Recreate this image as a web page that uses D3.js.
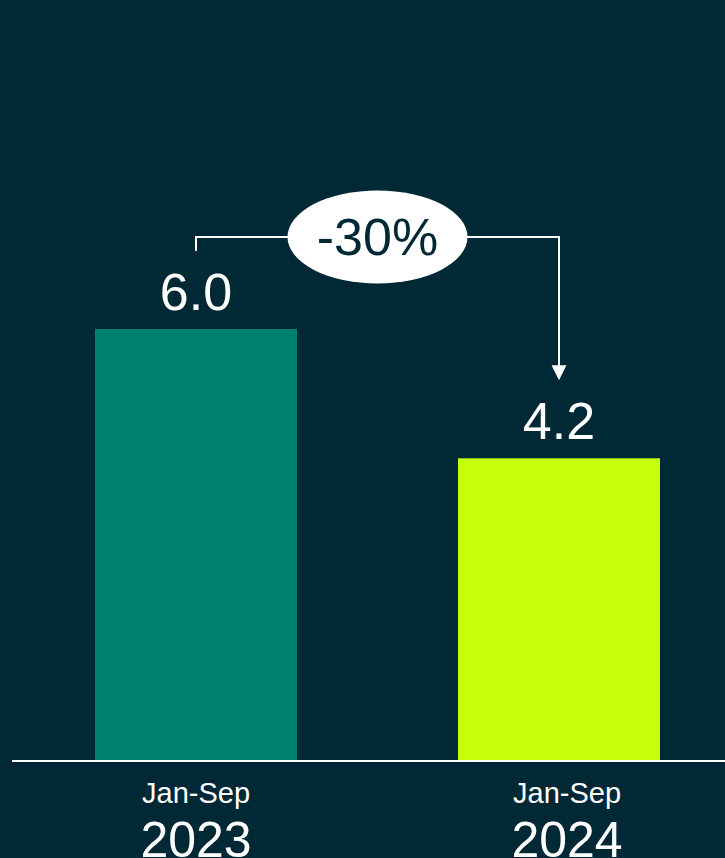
<!DOCTYPE html>
<html>
<head>
<meta charset="utf-8">
<script src="https://d3js.org/d3.v7.min.js"></script>
<style>
body { margin: 0; padding: 0; background: #012835; overflow: hidden; }
svg { display: block; }
text { font-family: "Liberation Sans", Arial, sans-serif; }
</style>
</head>
<body>
<svg id="chart" width="725" height="858"></svg>
<script>
// data
var periods = ['Jan-Sep', 'Jan-Sep'];
var years = ['2023', '2024'];
var values = [6.0, 4.2];
var barColors = ['#008070', '#c6ff0a'];
var changeLabel = '-30%';

var W = 725, H = 858;
var bg = '#012835';

var svg = d3.select('#chart');
svg.append('rect').attr('width', W).attr('height', H).attr('fill', bg);

var x = d3.scaleBand()
  .domain(years)
  .range([95, 660])
  .paddingInner(0.4435)
  .paddingOuter(0);

var y = d3.scaleLinear().domain([0, 6.0]).range([760, 329]);

var data = years.map(function(d, i) {
  return { year: d, period: periods[i], value: values[i], color: barColors[i] };
});

// bars
svg.selectAll('rect.bar')
  .data(data)
  .enter()
  .append('rect')
  .attr('class', 'bar')
  .attr('x', function(d) { return x(d.year); })
  .attr('y', function(d) { return y(d.value); })
  .attr('width', x.bandwidth())
  .attr('height', function(d) { return y(0) - y(d.value); })
  .attr('fill', function(d) { return d.color; });

// value labels
svg.selectAll('text.val')
  .data(data)
  .enter()
  .append('text')
  .attr('class', 'val')
  .attr('x', function(d) { return x(d.year) + x.bandwidth() / 2; })
  .attr('y', function(d) { return y(d.value) - 19; })
  .attr('text-anchor', 'middle')
  .attr('fill', '#ffffff')
  .attr('font-size', '52px')
  .text(function(d) { return d3.format('.1f')(d.value); });

// baseline
svg.append('line')
  .attr('x1', 12).attr('x2', W)
  .attr('y1', y(0) + 1).attr('y2', y(0) + 1)
  .attr('stroke', '#ffffff')
  .attr('stroke-width', 2);

// category labels (second one sits a little right of its bar)
var shift = [0, 8];
var lab = svg.selectAll('g.lab')
  .data(data)
  .enter()
  .append('g')
  .attr('class', 'lab')
  .attr('transform', function(d, i) {
    return 'translate(' + (x(d.year) + x.bandwidth() / 2 + shift[i]) + ',0)';
  });
lab.append('text')
  .attr('y', 803)
  .attr('text-anchor', 'middle')
  .attr('fill', '#ffffff')
  .attr('font-size', '29px')
  .text(function(d) { return d.period; });
lab.append('text')
  .attr('y', 857)
  .attr('text-anchor', 'middle')
  .attr('fill', '#ffffff')
  .attr('font-size', '50px')
  .text(function(d) { return d.year; });

// change annotation
var cx1 = x(years[0]) + x.bandwidth() / 2;
var cx2 = x(years[1]) + x.bandwidth() / 2;
var by = 237;
var tickEnd = y(values[0]) - 78;
var arrowTip = y(values[1]) - 78;

var defs = svg.append('defs');
defs.append('marker')
  .attr('id', 'arrow')
  .attr('viewBox', '0 0 10 10')
  .attr('refX', 10).attr('refY', 5)
  .attr('markerWidth', 8).attr('markerHeight', 8)
  .attr('markerUnits', 'userSpaceOnUse')
  .attr('orient', 'auto')
  .append('path')
  .attr('d', 'M0,0 L10,5 L0,10 Z')
  .attr('fill', '#ffffff');

svg.append('path')
  .attr('d', 'M' + cx1 + ',' + tickEnd + ' L' + cx1 + ',' + by + ' L' + cx2 + ',' + by + ' L' + cx2 + ',' + (arrowTip - 14))
  .attr('fill', 'none')
  .attr('stroke', '#ffffff')
  .attr('stroke-width', 2);

svg.append('path')
  .attr('d', 'M' + (cx2 - 7.5) + ',' + (arrowTip - 15) + ' L' + (cx2 + 7.5) + ',' + (arrowTip - 15) + ' L' + cx2 + ',' + arrowTip + ' Z')
  .attr('fill', '#ffffff');

var mx = (cx1 + cx2) / 2;
svg.append('ellipse')
  .attr('cx', mx).attr('cy', by)
  .attr('rx', 90).attr('ry', 46.5)
  .attr('fill', '#ffffff');

svg.append('text')
  .attr('x', mx).attr('y', by + 18)
  .attr('text-anchor', 'middle')
  .attr('fill', bg)
  .attr('font-size', '52px')
  .text(changeLabel);
</script>
</body>
</html>
